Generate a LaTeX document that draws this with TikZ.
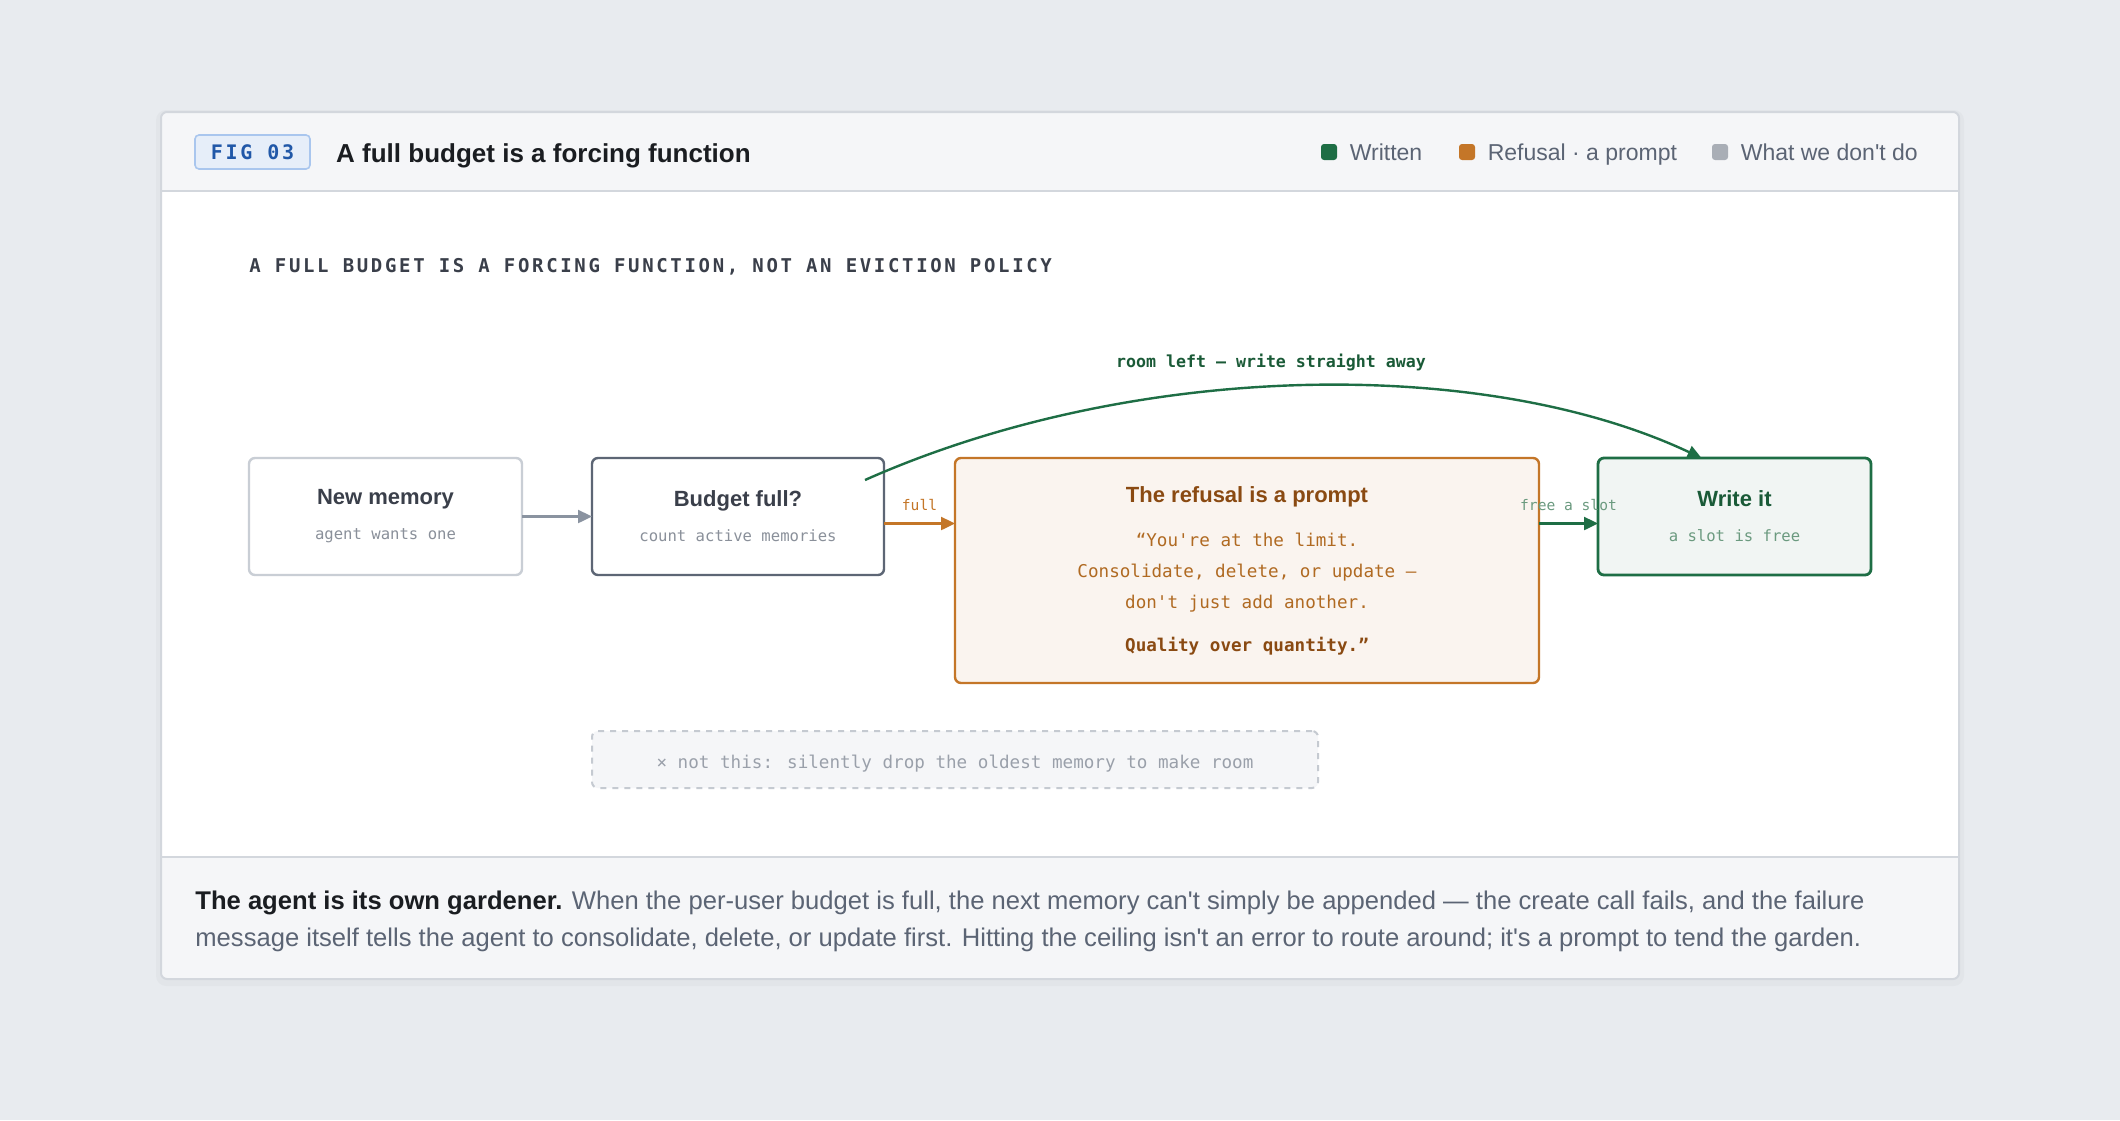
\documentclass[tikz,border=0pt]{standalone}
\usepackage{fontspec}
\setmainfont{Liberation Sans}
\newfontfamily\monofont{DejaVu Sans Mono}
\newfontfamily\capsmono[LetterSpace=14]{DejaVu Sans Mono}
\usetikzlibrary{arrows.meta,positioning}

\definecolor{pagebg}{HTML}{E8EBEF}
\definecolor{cardedge}{HTML}{D3D7DD}
\definecolor{barfill}{HTML}{F5F6F8}
\definecolor{ink}{HTML}{1A1D21}
\definecolor{inkmid}{HTML}{3A3F4A}
\definecolor{legendgray}{HTML}{5B6474}
\definecolor{subgray}{HTML}{8A909A}
\definecolor{memedge}{HTML}{C9CED5}
\definecolor{budgetedge}{HTML}{5D6675}
\definecolor{flowgray}{HTML}{8A93A0}
\definecolor{written}{HTML}{1E6E45}
\definecolor{writtendark}{HTML}{1A5A37}
\definecolor{writtensoft}{HTML}{6B9A7F}
\definecolor{writtenfill}{HTML}{F1F5F3}
\definecolor{refusal}{HTML}{C47628}
\definecolor{refusaldark}{HTML}{8A4A12}
\definecolor{refusaltext}{HTML}{B06A22}
\definecolor{refusalfill}{HTML}{FAF4EF}
\definecolor{dontgray}{HTML}{A9AEB6}
\definecolor{dontedge}{HTML}{C5CAD1}
\definecolor{donttext}{HTML}{9AA0AA}
\definecolor{badgefill}{HTML}{E6EEF9}
\definecolor{badgeedge}{HTML}{A9C6EE}
\definecolor{badgetext}{HTML}{2158A8}

\newcommand{\boxtitle}{\normalfont\bfseries\fontsize{11}{13}\selectfont}

\begin{document}
\begin{tikzpicture}[
  x=0.5pt, y=-0.5pt,
  stepbox/.style={rectangle, rounded corners=3pt, draw, line width=1.2pt, minimum width=136.5pt, minimum height=58.5pt, align=center, inner sep=0pt, outer sep=0pt, font=\monofont\fontsize{7.8}{17.5}\selectfont},
  legkey/.style={rectangle, rounded corners=1.5pt, minimum size=8pt, inner sep=0pt},
  legtext/.style={inner sep=0pt, text height=8.3pt, text depth=2.4pt, yshift=-1.3pt, text=legendgray, font=\fontsize{11.5}{13}\selectfont},
  flow/.style={-{Triangle[length=7pt, width=6.5pt]}, line width=1.2pt},
  flowlabel/.style={font=\monofont\fontsize{7.3}{9}\selectfont, inner sep=1pt},
]
  % page and card
  \fill[pagebg] (0,0) rectangle (2120,1120);
  \fill[black, opacity=0.025, rounded corners=5pt] (156,110) rectangle (1964,986);
  \fill[barfill, rounded corners=3pt] (161,112) rectangle (1959,979);
  \fill[white] (161,191) rectangle (1959,857);
  \draw[cardedge, line width=1pt] (161,191) -- (1959,191);
  \draw[cardedge, line width=1pt] (161,857) -- (1959,857);
  \draw[cardedge, line width=1pt, rounded corners=3pt] (161,112) rectangle (1959,979);

  % header
  \node[rectangle, rounded corners=2pt, draw=badgeedge, fill=badgefill, line width=0.8pt,
        minimum width=57.5pt, minimum height=17pt, inner sep=0pt,
        text=badgetext, font=\capsmono\bfseries\fontsize{10}{12}\selectfont]
        (badge) at (252.5,152) {FIG 03};
  \node[right=12.5pt of badge, inner sep=0pt, text height=9.4pt, text depth=2.8pt, yshift=-1.8pt, text=ink,
        font=\bfseries\fontsize{13}{15}\selectfont]
        (title) {A full budget is a forcing function};

  \node[legkey, fill=written] (keyw) at (1329,152) {};
  \node[legtext, right=6pt of keyw] (legw) {Written};
  \node[legkey, fill=refusal] (keyr) at (1467,152) {};
  \node[legtext, right=6pt of keyr] (legr) {Refusal · a prompt};
  \node[legkey, fill=dontgray] (keyd) at (1720,152) {};
  \node[legtext, right=6pt of keyd] (legd) {What we don\textquotesingle t do};

  \node[anchor=west, inner sep=0pt, text=inkmid, font=\capsmono\bfseries\fontsize{9.5}{11}\selectfont]
        (heading) at (249,267) {A FULL BUDGET IS A FORCING FUNCTION, NOT AN EVICTION POLICY};

  % flow
  \node[stepbox, draw=memedge, text=subgray, anchor=north west] (mem) at (249,458)
    {{\boxtitle\color{inkmid}New memory}\\agent wants one};
  \node[stepbox, draw=budgetedge, text=subgray, minimum width=146pt, below right=0pt and 35pt of mem.north east] (budget)
    {{\boxtitle\color{inkmid}Budget full?}\\count active memories};
  \node[stepbox, draw=refusal, fill=refusalfill, text=refusaltext, minimum width=292pt, minimum height=112.5pt,
        font=\monofont\fontsize{8.8}{15.5}\selectfont, below right=0pt and 35.5pt of budget.north east] (refusal)
    {{\boxtitle\color{refusaldark}The refusal is a prompt}\\[6.5pt]
     “You're at the limit.\\
     Consolidate, delete, or update —\\
     don't just add another.\\[6pt]
     {\bfseries\color{refusaldark}Quality over quantity.”}};
  \node[stepbox, draw=written, fill=writtenfill, text=writtensoft, line width=1.4pt,
        below right=0pt and 29.5pt of refusal.north east] (write)
    {{\boxtitle\color{writtendark}Write it}\\a slot is free};

  \node[rectangle, rounded corners=3pt, draw=dontedge, fill=barfill, dashed, line width=1pt,
        minimum width=363pt, minimum height=28.5pt, inner sep=0pt, outer sep=0pt,
        text height=8.7pt, text depth=0pt, text=donttext,
        font=\monofont\fontsize{8.8}{10}\selectfont, below right=78pt and 0pt of budget.south west] (notthis)
    {× not this: silently drop the oldest memory to make room};

  \draw[flow, flowgray] (mem) -- (budget);
  \draw[flow, refusal] ([yshift=-3.5pt]budget.east) -- ([yshift=-3.5pt]budget.east -| refusal.west)
    node[flowlabel, midway, above=5pt, text=refusal] {full};
  \draw[flow, written] ([yshift=-3.5pt]write.west -| refusal.east) -- ([yshift=-3.5pt]write.west)
    node[flowlabel, midway, above=5pt, text=writtensoft] {free a slot};
  \draw[flow, written] ([xshift=-9.5pt, yshift=-11pt]budget.north east)
    .. controls (1135,360) and (1485,356) .. ([xshift=-16.5pt]write.north);
  \node[text=writtendark, inner sep=0pt, font=\monofont\bfseries\fontsize{8.3}{10}\selectfont]
        (roomleft) at (1271,362) {room left — write straight away};

  % caption
  \node[anchor=west, align=left, inner sep=0pt, text=legendgray, font=\fontsize{12.8}{18.5}\selectfont]
        (caption) at (195,921)
    {{\bfseries\color{ink}The agent is its own gardener.} When the per-user budget is full, the next memory can\textquotesingle t simply be appended — the create call fails, and the failure\\
     message itself tells the agent to consolidate, delete, or update first. Hitting the ceiling isn\textquotesingle t an error to route around; it\textquotesingle s a prompt to tend the garden.};
\end{tikzpicture}
\end{document}
